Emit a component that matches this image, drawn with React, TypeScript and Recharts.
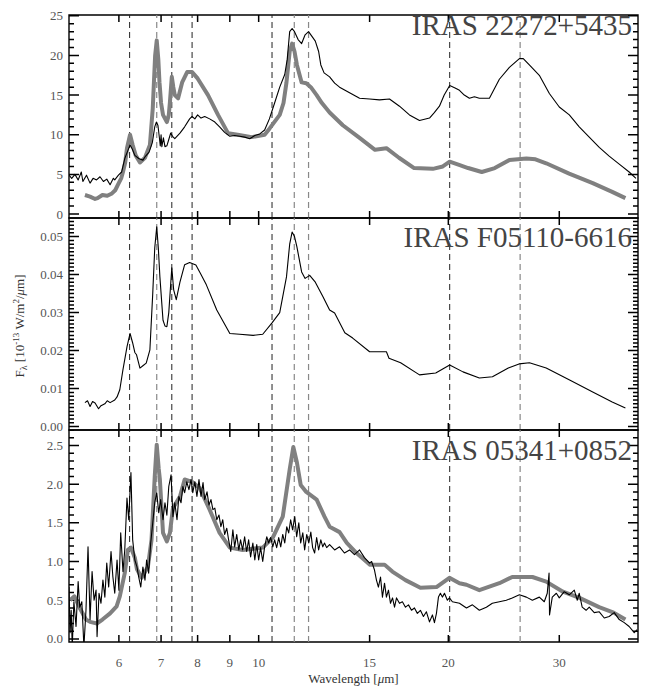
import React from 'react';
import { LineChart, Line, XAxis, YAxis, ReferenceLine, ReferenceArea } from 'recharts';

const FONT = 'Liberation Serif, DejaVu Serif, Times New Roman, serif';

// ---------- axis data ----------
const xTicks = [6, 7, 8, 9, 10, 15, 20, 30];
const xDomain: [number, number] = [5, 40];

// dashed feature markers (micron)
const featuresDark = [6.24, 7.28, 7.84, 10.5, 20.1];
const featuresGray = [6.89, 11.39, 12.0, 26.0];

const titles = ['IRAS 22272+5435', 'IRAS F05110-6616', 'IRAS 05341+0852'];

const p1Major = [0, 5, 10, 15, 20, 25];
const p2Major = [0, 0.01, 0.02, 0.03, 0.04, 0.05];
const p3Major = [0, 0.5, 1.0, 1.5, 2.0, 2.5];

// ---------- series data: [wavelength (um), flux] ----------
const p1Black: [number, number][] = [
  [5.0, 4.9], [5.05, 4.5], [5.11, 5.0], [5.17, 4.3], [5.23, 5.3], [5.26, 4.1], [5.33, 4.9],
  [5.4, 3.9], [5.46, 4.5], [5.53, 4.3], [5.6, 4.7], [5.67, 4.1], [5.74, 4.4], [5.81, 3.7],
  [5.88, 4.5], [5.91, 4.3], [5.99, 4.9], [6.06, 5.3], [6.13, 7.0], [6.2, 8.0], [6.25, 8.7],
  [6.3, 8.2], [6.36, 7.4], [6.45, 7.0], [6.55, 6.8], [6.6, 7.2], [6.7, 7.8], [6.78, 9.0],
  [6.84, 11.0], [6.88, 11.6], [6.92, 11.2], [6.96, 9.5], [6.98, 8.6], [7.0, 10.0], [7.02, 8.5],
  [7.06, 9.6], [7.1, 8.5], [7.15, 8.6], [7.2, 9.4], [7.25, 10.2], [7.3, 9.8], [7.36, 9.5],
  [7.5, 10.2], [7.63, 11.0], [7.77, 12.0], [7.84, 12.3], [7.92, 12.0], [8.0, 12.5], [8.1, 12.1],
  [8.21, 12.3], [8.36, 12.0], [8.52, 11.6], [8.67, 11.0], [8.83, 10.3], [9.0, 9.8], [9.16, 9.9],
  [9.33, 9.8], [9.5, 9.7], [9.68, 9.5], [9.86, 9.9], [10.04, 10.1], [10.22, 10.6], [10.4, 12.0],
  [10.6, 14.0], [10.8, 16.0], [11.0, 17.6], [11.1, 19.5], [11.2, 23.0], [11.3, 23.4], [11.4, 23.0],
  [11.55, 22.0], [11.7, 21.5], [11.85, 22.6], [12.0, 23.0], [12.15, 22.4], [12.3, 21.8],
  [12.45, 20.5], [12.55, 18.8], [12.7, 17.8], [12.96, 17.3], [13.2, 16.5], [13.44, 16.0],
  [13.94, 15.3], [14.46, 14.6], [15.0, 14.5], [15.55, 14.4], [16.13, 14.5], [16.73, 13.6],
  [17.35, 12.5], [18.0, 11.8], [18.67, 12.1], [19.0, 12.8], [19.36, 13.6], [19.7, 15.0],
  [20.1, 16.2], [20.5, 15.9], [20.83, 15.6], [21.2, 15.0], [21.6, 14.6], [22.0, 14.8],
  [22.4, 14.6], [23.24, 14.6], [24.1, 17.0], [25.0, 18.5], [25.93, 19.6], [26.3, 19.6],
  [26.89, 18.8], [27.89, 17.5], [28.93, 15.2], [30.0, 13.5], [31.12, 12.5], [32.27, 11.0],
  [33.47, 9.7], [34.72, 8.4], [36.0, 7.3], [37.35, 6.3], [38.73, 5.3], [39.7, 4.5],
];

const p1Gray: [number, number][] = [
  [5.3, 2.4], [5.4, 2.2], [5.5, 1.9], [5.55, 2.0], [5.65, 2.4], [5.75, 2.3], [5.85, 2.6],
  [5.92, 3.0], [5.98, 3.7], [6.05, 4.5], [6.09, 5.3], [6.14, 6.5], [6.18, 8.3], [6.25, 10.0],
  [6.31, 8.7], [6.38, 7.4], [6.48, 6.5], [6.6, 7.1], [6.72, 8.7], [6.79, 13.3], [6.85, 20.0],
  [6.89, 21.9], [6.93, 19.5], [6.96, 16.6], [7.0, 14.0], [7.05, 12.5], [7.15, 11.6], [7.2, 12.5],
  [7.23, 14.1], [7.28, 17.3], [7.32, 16.0], [7.36, 15.0], [7.45, 14.6], [7.56, 16.6], [7.7, 17.9],
  [7.84, 17.9], [8.0, 17.1], [8.31, 15.0], [8.62, 12.5], [8.94, 10.2], [9.26, 10.0], [9.75, 9.7],
  [10.22, 10.0], [10.41, 10.8], [10.8, 12.5], [10.95, 14.0], [11.07, 16.6], [11.2, 20.5],
  [11.3, 21.5], [11.4, 20.5], [11.5, 18.8], [11.7, 16.6], [11.9, 16.5], [12.1, 16.0],
  [12.36, 15.0], [12.6, 14.0], [12.96, 12.8], [13.6, 11.2], [14.46, 9.6], [15.3, 8.1],
  [15.95, 8.3], [16.7, 7.1], [17.65, 5.8], [18.9, 5.7], [19.6, 6.0], [20.1, 6.6], [20.8, 6.2],
  [21.5, 5.8], [22.6, 5.3], [23.7, 5.8], [25.0, 6.8], [26.6, 7.0], [27.5, 6.9], [28.6, 6.4],
  [31.1, 5.1], [33.9, 3.9], [36.4, 2.8], [38.2, 2.0],
];

const p2Black: [number, number][] = [
  [5.3, 0.0063], [5.35, 0.0068], [5.4, 0.0053], [5.45, 0.0066], [5.5, 0.0062], [5.57, 0.0047],
  [5.62, 0.0055], [5.7, 0.006], [5.75, 0.0068], [5.81, 0.0063], [5.91, 0.007], [5.96, 0.0078],
  [6.02, 0.0097], [6.09, 0.015], [6.18, 0.021], [6.25, 0.0245], [6.31, 0.022], [6.36, 0.0195],
  [6.4, 0.0189], [6.48, 0.0154], [6.55, 0.016], [6.63, 0.0167], [6.72, 0.0202], [6.79, 0.035],
  [6.84, 0.047], [6.89, 0.0526], [6.93, 0.047], [6.97, 0.0394], [7.05, 0.028], [7.1, 0.0265],
  [7.15, 0.0263], [7.2, 0.03], [7.28, 0.0418], [7.33, 0.036], [7.4, 0.0334], [7.5, 0.038],
  [7.63, 0.0426], [7.77, 0.0432], [7.95, 0.0425], [8.1, 0.04], [8.26, 0.0373], [8.58, 0.0307],
  [9.0, 0.0245], [9.33, 0.0243], [9.8, 0.024], [10.15, 0.0243], [10.5, 0.0273], [10.8, 0.03],
  [11.07, 0.0394], [11.2, 0.048], [11.3, 0.0512], [11.4, 0.05], [11.5, 0.0473], [11.7, 0.0407],
  [11.85, 0.039], [12.05, 0.0398], [12.3, 0.038], [12.65, 0.0342], [12.96, 0.0307],
  [13.2, 0.0299], [13.7, 0.0247], [14.1, 0.0233], [15.0, 0.0197], [15.95, 0.0197],
  [16.1, 0.018], [16.8, 0.0168], [18.0, 0.0136], [19.1, 0.0141], [20.1, 0.0162], [21.1, 0.0144],
  [22.4, 0.0128], [23.5, 0.0131], [24.9, 0.0154], [25.9, 0.0165], [26.9, 0.0168], [28.6, 0.0154],
  [31.1, 0.0123], [33.9, 0.0091], [36.4, 0.0065], [38.2, 0.0049],
];

const p3Gray: [number, number][] = [
  [5.02, 0.5], [5.1, 0.55], [5.2, 0.4], [5.32, 0.25], [5.4, 0.22], [5.54, 0.2], [5.65, 0.25],
  [5.81, 0.33], [5.95, 0.42], [6.02, 0.55], [6.13, 0.85], [6.2, 1.15], [6.27, 1.18], [6.36, 1.05],
  [6.41, 0.9], [6.52, 0.79], [6.67, 0.93], [6.76, 1.28], [6.84, 2.1], [6.89, 2.51], [6.94, 2.2],
  [6.97, 2.06], [7.05, 1.37], [7.15, 1.26], [7.23, 1.37], [7.31, 1.69], [7.5, 1.84], [7.63, 2.06],
  [7.84, 2.03], [8.06, 1.95], [8.36, 1.67], [8.67, 1.37], [9.0, 1.18], [9.43, 1.15], [10.15, 1.18],
  [10.53, 1.31], [10.92, 1.58], [11.2, 2.19], [11.35, 2.48], [11.5, 2.28], [11.66, 1.99],
  [11.9, 1.9], [12.36, 1.8], [12.72, 1.58], [12.96, 1.45], [13.44, 1.38], [13.8, 1.24],
  [14.3, 1.11], [15.0, 0.96], [15.84, 0.96], [16.3, 0.87], [17.1, 0.76], [18.06, 0.66],
  [19.15, 0.67], [20.08, 0.79], [20.83, 0.72], [21.37, 0.7], [22.4, 0.63], [24.1, 0.72],
  [25.26, 0.8], [27.2, 0.8], [28.6, 0.74], [30.4, 0.61], [32.3, 0.53], [34.7, 0.41], [36.6, 0.34],
  [38.2, 0.25],
];

const p3Black: [number, number][] = [
  [5.0, 0.67], [5.02, 0.08], [5.04, 0.37], [5.06, -0.1], [5.09, 0.48], [5.13, 0.16], [5.17, 0.74],
  [5.2, 0.41], [5.24, 0.48], [5.28, -0.1], [5.32, 0.37], [5.36, 1.19], [5.4, 0.25], [5.44, 0.87],
  [5.48, 0.5], [5.52, 0.63], [5.54, 0.03], [5.58, 0.59], [5.62, 0.46], [5.66, 0.76], [5.7, 0.54],
  [5.74, 0.98], [5.78, 0.67], [5.83, 1.13], [5.87, 0.8], [5.91, 0.59], [5.96, 1.02], [6.0, 0.63],
  [6.04, 1.37], [6.09, 0.87], [6.13, 1.15], [6.18, 1.82], [6.22, 1.54], [6.27, 2.15], [6.31, 1.28],
  [6.36, 1.02], [6.41, 0.93], [6.45, 0.8], [6.5, 0.67], [6.55, 0.93], [6.6, 0.76], [6.64, 1.02],
  [6.69, 0.85], [6.74, 1.24], [6.79, 1.5], [6.84, 1.76], [6.89, 1.89], [6.94, 1.63], [6.99, 1.8],
  [7.05, 1.54], [7.1, 1.76], [7.15, 1.6], [7.2, 1.97], [7.26, 2.12], [7.31, 1.58], [7.36, 1.76],
  [7.42, 1.54], [7.47, 1.84], [7.53, 1.76], [7.58, 1.97], [7.63, 1.89], [7.69, 2.03], [7.75, 1.93],
  [7.81, 2.06], [7.86, 1.89], [7.92, 2.03], [7.98, 1.84], [8.04, 2.06], [8.1, 1.84], [8.16, 2.02],
  [8.21, 1.8], [8.28, 1.9], [8.34, 1.73], [8.4, 1.8], [8.46, 1.67], [8.52, 1.69], [8.58, 1.54],
  [8.65, 1.6], [8.71, 1.45], [8.77, 1.54], [8.83, 1.35], [8.9, 1.43], [8.96, 1.28], [9.03, 1.13],
  [9.1, 1.41], [9.16, 1.19], [9.23, 1.35], [9.3, 1.15], [9.36, 1.28], [9.43, 1.15], [9.5, 1.32],
  [9.57, 1.13], [9.64, 1.28], [9.71, 1.06], [9.79, 1.24], [9.86, 1.02], [9.93, 1.22], [10.0, 1.02],
  [10.07, 1.18], [10.15, 1.0], [10.22, 1.19], [10.3, 1.32], [10.37, 1.24], [10.45, 1.31],
  [10.53, 1.19], [10.6, 1.28], [10.68, 1.18], [10.76, 1.31], [10.84, 1.19], [10.92, 1.35],
  [11.0, 1.24], [11.08, 1.45], [11.16, 1.37], [11.24, 1.54], [11.32, 1.41], [11.41, 1.58],
  [11.49, 1.32], [11.58, 1.5], [11.66, 1.24], [11.75, 1.37], [11.83, 1.15], [11.92, 1.35],
  [12.01, 1.24], [12.1, 1.38], [12.18, 1.18], [12.27, 1.11], [12.36, 1.31], [12.45, 1.15],
  [12.55, 1.28], [12.64, 1.19], [12.72, 1.24], [12.82, 1.18], [12.96, 1.22], [13.2, 1.15],
  [13.44, 1.19], [13.68, 1.11], [13.94, 1.15], [14.19, 1.09], [14.46, 1.15], [14.72, 1.05],
  [15.0, 0.98], [15.11, 1.0], [15.27, 0.89], [15.38, 0.76], [15.49, 0.67], [15.61, 0.8],
  [15.72, 0.54], [15.84, 0.72], [15.95, 0.54], [16.07, 0.63], [16.19, 0.46], [16.31, 0.53],
  [16.43, 0.41], [16.55, 0.53], [16.73, 0.46], [16.91, 0.48], [17.1, 0.41], [17.29, 0.44],
  [17.48, 0.37], [17.67, 0.4], [17.86, 0.33], [18.06, 0.37], [18.26, 0.29], [18.46, 0.35],
  [18.67, 0.22], [18.87, 0.31], [19.01, 0.21], [19.15, 0.33], [19.29, 0.54], [19.43, 0.59],
  [19.57, 0.54], [19.72, 0.59], [19.93, 0.5], [20.08, 0.53], [20.3, 0.48], [20.83, 0.46],
  [21.37, 0.4], [21.84, 0.44], [22.4, 0.37], [22.98, 0.41], [23.49, 0.46], [24.1, 0.48],
  [24.72, 0.5], [25.26, 0.53], [25.93, 0.57], [26.6, 0.54], [27.19, 0.5], [27.89, 0.54],
  [28.4, 0.48], [28.71, 0.59], [28.9, 0.85], [28.95, 0.31], [29.24, 0.54], [29.68, 0.59],
  [30.0, 0.53], [30.55, 0.61], [31.12, 0.57], [31.69, 0.63], [32.04, 0.5], [32.27, 0.59],
  [32.62, 0.41], [33.09, 0.37], [33.47, 0.41], [34.09, 0.34], [34.72, 0.35], [35.36, 0.27],
  [36.0, 0.29], [36.67, 0.34], [37.35, 0.25], [38.04, 0.21], [38.73, 0.16], [39.45, 0.08],
  [39.88, 0.12],
];

// ---------- helpers ----------
const toPts = (arr: [number, number][]) => arr.map(([w, f]) => ({ w, f }));

const minorTicks = (lo: number, hi: number, step: number, digits: number) => {
  const out: number[] = [];
  const n0 = Math.ceil(lo / step - 1e-9);
  const n1 = Math.floor(hi / step + 1e-9);
  for (let k = n0; k <= n1; k++) out.push(Number((k * step).toFixed(digits)));
  return out;
};

const BLACK = '#000000';
const GRAY = '#808080';
const TICKTEXT = '#555555';
const TXT = { fontFamily: FONT };

const CHART_W = 657;
const Y_AXIS_W = 69;
const RIGHT_M = 18;
const PLOT_W = CHART_W - Y_AXIS_W - 1 - RIGHT_M; // 569
const PX_PER_LN = PLOT_W / Math.log(xDomain[1] / xDomain[0]);

type TickPt = { w: number; f: number | null };

// tick-mark polylines (broken by nulls); lengths are pixel sizes turned into axis units
const yTickPts = (ticks: number[], isMajor: (v: number) => boolean, side: 'l' | 'r'): TickPt[] => {
  const out: TickPt[] = [];
  ticks.forEach((v) => {
    const k = Math.exp((isMajor(v) ? 10 : 5) / PX_PER_LN);
    const w0 = side === 'l' ? xDomain[0] : xDomain[1];
    const w1 = side === 'l' ? xDomain[0] * k : xDomain[1] / k;
    out.push({ w: w0, f: v }, { w: w1, f: v }, { w: w1, f: null });
  });
  return out;
};
const xTickPts = (yDomain: [number, number], plotH: number, edge: 'b' | 't'): TickPt[] => {
  const d = (7 * (yDomain[1] - yDomain[0])) / plotH;
  const out: TickPt[] = [];
  xTicks.forEach((w) => {
    const f0 = edge === 'b' ? yDomain[0] : yDomain[1];
    const f1 = edge === 'b' ? f0 + d : f0 - d;
    out.push({ w, f: f0 }, { w, f: f1 }, { w, f: null });
  });
  return out;
};

const makeXLabel = (showLabel: boolean) => (props: any) => {
  const { x, y, payload } = props;
  if (!showLabel) return <g />;
  return (
    <text x={x} y={y + 25} textAnchor="middle" fontSize={13} style={TXT} fill={TICKTEXT}>
      {String(payload.value)}
    </text>
  );
};

const makeYLabel = (major: number[], fmt: (v: number) => string) => (props: any) => {
  const { x, y, payload } = props;
  const v = payload.value;
  const isMajor = major.some((m) => Math.abs(m - v) < 1e-7);
  if (!isMajor) return <g />;
  return (
    <text x={x - 6} y={y + 4.5} textAnchor="end" fontSize={13} style={TXT} fill={TICKTEXT}>
      {fmt(v)}
    </text>
  );
};

type Series = { data: [number, number][]; color: string; width: number };

type PanelProps = {
  top: number;
  height: number;
  mTop: number;
  mBottom: number;
  yDomain: [number, number];
  yMajor: number[];
  yMinorStep: number;
  digits: number;
  fmt: (v: number) => string;
  title: string;
  titleDy: number;
  series: Series[];
  showXLabels?: boolean;
  yLabel?: boolean;
  xLabel?: boolean;
};

function Panel(p: PanelProps) {
  const yTicks = minorTicks(p.yDomain[0], p.yDomain[1], p.yMinorStep, p.digits + 1);
  const isMajor = (v: number) => p.yMajor.some((m) => Math.abs(m - v) < 1e-7);
  const plotH = p.height - p.mTop - p.mBottom;
  const tickSets = [
    yTickPts(yTicks, isMajor, 'l'),
    yTickPts(yTicks, isMajor, 'r'),
    xTickPts(p.yDomain, plotH, 'b'),
    xTickPts(p.yDomain, plotH, 't'),
  ];
  const titleContent = (props: any) => {
    const vb = props.viewBox || { x: 69, y: p.mTop, width: 569, height: 1 };
    return (
      <text
        x={vb.x + vb.width - 6}
        y={vb.y + vb.height + p.titleDy}
        textAnchor="end"
        fontSize={29}
        style={TXT}
        fill="#444"
      >
        {p.title}
      </text>
    );
  };
  const yLabelContent = (props: any) => {
    const vb = props.viewBox || { x: 0, y: p.mTop, width: 69, height: plotH };
    const cx = 24;
    const cy = vb.y + vb.height / 2 + 2;
    return (
      <text
        x={cx}
        y={cy}
        transform={`rotate(-90, ${cx}, ${cy})`}
        textAnchor="middle"
        fontSize={13}
        style={TXT}
        fill="#333"
      >
        <tspan>F</tspan>
        <tspan dy={3} fontSize={10}>λ</tspan>
        <tspan dy={-3}> [10</tspan>
        <tspan dy={-5} fontSize={9}>-13</tspan>
        <tspan dy={5}> W/m</tspan>
        <tspan dy={-5} fontSize={9}>2</tspan>
        <tspan dy={5}>/</tspan>
        <tspan fontStyle="italic">μ</tspan>
        <tspan>m]</tspan>
      </text>
    );
  };
  const xLabelContent = (props: any) => {
    const vb = props.viewBox || { x: 69, y: p.height - p.mBottom, width: 569, height: 1 };
    return (
      <text x={vb.x + vb.width / 2} y={vb.y + 41} textAnchor="middle" fontSize={13} style={TXT} fill="#333">
        <tspan>Wavelength [</tspan>
        <tspan fontStyle="italic">μ</tspan>
        <tspan>m]</tspan>
      </text>
    );
  };

  return (
    <div style={{ position: 'absolute', left: 0, top: p.top, width: CHART_W, height: p.height }}>
      <LineChart
        width={CHART_W}
        height={p.height}
        margin={{ top: p.mTop - 1, right: RIGHT_M, bottom: p.mBottom - 1, left: 0 }}
      >
        <XAxis
          xAxisId="b"
          dataKey="w"
          type="number"
          scale="log"
          domain={xDomain}
          allowDataOverflow
          ticks={xTicks}
          interval={0}
          orientation="bottom"
          height={1}
          tickSize={0}
          tickMargin={0}
          tickLine={false}
          axisLine={false}
          tick={makeXLabel(!!p.showXLabels)}
          label={p.xLabel ? { content: xLabelContent } : undefined}
        />
        <XAxis
          xAxisId="t"
          dataKey="w"
          type="number"
          scale="log"
          domain={xDomain}
          allowDataOverflow
          ticks={xTicks}
          interval={0}
          orientation="top"
          height={1}
          tickSize={0}
          tickMargin={0}
          tickLine={false}
          axisLine={false}
          tick={makeXLabel(false)}
          label={{ content: titleContent }}
        />
        <YAxis
          yAxisId="l"
          type="number"
          domain={p.yDomain}
          allowDataOverflow
          ticks={yTicks}
          interval={0}
          width={Y_AXIS_W}
          tickSize={0}
          tickMargin={0}
          tickLine={false}
          axisLine={false}
          tick={makeYLabel(p.yMajor, p.fmt)}
          label={p.yLabel ? { content: yLabelContent } : undefined}
        />
        <YAxis
          yAxisId="r"
          orientation="right"
          type="number"
          domain={p.yDomain}
          allowDataOverflow
          ticks={yTicks}
          interval={0}
          width={1}
          tick={false}
          tickLine={false}
          axisLine={false}
        />
        <ReferenceArea
          xAxisId="b"
          yAxisId="l"
          x1={xDomain[0]}
          x2={xDomain[1]}
          y1={p.yDomain[0]}
          y2={p.yDomain[1]}
          fill="none"
          fillOpacity={0}
          stroke={BLACK}
          strokeWidth={1.4}
          ifOverflow="visible"
        />
        {featuresDark.map((w) => (
          <ReferenceLine key={'d' + w} xAxisId="b" yAxisId="l" x={w} stroke="#222" strokeWidth={1} strokeDasharray="6 4" />
        ))}
        {featuresGray.map((w) => (
          <ReferenceLine key={'g' + w} xAxisId="b" yAxisId="l" x={w} stroke="#888" strokeWidth={1.2} strokeDasharray="6 4" />
        ))}
        {tickSets.map((pts, i) => (
          <Line
            key={'tick' + i}
            xAxisId="b"
            yAxisId="l"
            data={pts}
            dataKey="f"
            type="linear"
            stroke={BLACK}
            strokeWidth={1.5}
            connectNulls={false}
            dot={false}
            activeDot={false}
            isAnimationActive={false}
          />
        ))}
        {p.series.map((s, i) => (
          <Line
            key={i}
            xAxisId="b"
            yAxisId="l"
            data={toPts(s.data)}
            dataKey="f"
            type="linear"
            stroke={s.color}
            strokeWidth={s.width}
            strokeLinejoin="round"
            dot={false}
            activeDot={false}
            isAnimationActive={false}
          />
        ))}
      </LineChart>
    </div>
  );
}

export default function App() {
  return (
    <div style={{ position: 'absolute', left: 0, top: 0, width: 657, height: 691, background: '#fff' }}>
      <Panel
        top={0}
        height={222}
        mTop={15}
        mBottom={4}
        yDomain={[-0.5, 25.1]}
        yMajor={p1Major}
        yMinorStep={1}
        digits={0}
        fmt={(v) => v.toFixed(0)}
        title={titles[0]}
        titleDy={20}
        series={[
          { data: p1Gray, color: GRAY, width: 4 },
          { data: p1Black, color: BLACK, width: 1.1 },
        ]}
      />
      <Panel
        top={214}
        height={220}
        mTop={4}
        mBottom={4}
        yDomain={[-0.0009, 0.0549]}
        yMajor={p2Major}
        yMinorStep={0.001}
        digits={3}
        fmt={(v) => v.toFixed(2)}
        title={titles[1]}
        titleDy={29}
        yLabel
        series={[{ data: p2Black, color: BLACK, width: 1.1 }]}
      />
      <Panel
        top={426}
        height={265}
        mTop={4}
        mBottom={49}
        yDomain={[-0.04, 2.7]}
        yMajor={p3Major}
        yMinorStep={0.1}
        digits={1}
        fmt={(v) => v.toFixed(1)}
        title={titles[2]}
        titleDy={30}
        showXLabels
        xLabel
        series={[
          { data: p3Gray, color: GRAY, width: 4 },
          { data: p3Black, color: BLACK, width: 1.1 },
        ]}
      />
    </div>
  );
}
